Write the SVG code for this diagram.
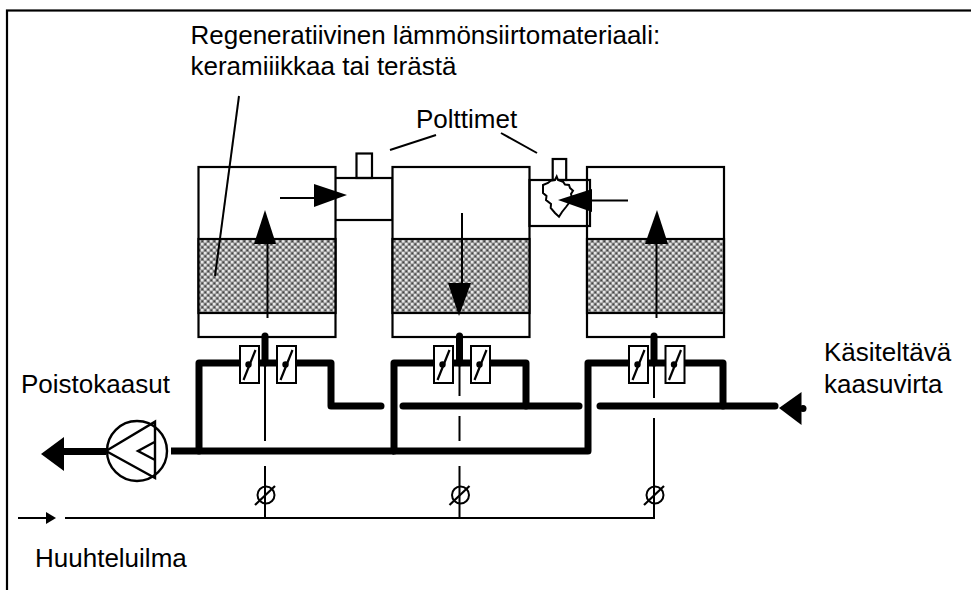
<svg xmlns="http://www.w3.org/2000/svg" width="971" height="590" viewBox="0 0 971 590">
<style>
text{font-family:"Liberation Sans",Arial,sans-serif;font-size:26px;fill:#000}
.o{fill:#fff;stroke:#000;stroke-width:2.2}
.n{fill:none;stroke:#000;stroke-width:2.2}
.w{fill:#fff;stroke:#000;stroke-width:2}
.m{fill:none;stroke:#000;stroke-width:2.4}
.t{fill:none;stroke:#000;stroke-width:2.2}
.p{fill:none;stroke:#000;stroke-width:7;stroke-linecap:round;stroke-linejoin:round}
.q{fill:none;stroke:#000;stroke-width:7}
.h{fill:#000}
.b{fill:url(#mesh);stroke:#000;stroke-width:2.2}
.l{fill:none;stroke:#000;stroke-width:2}
</style>
<defs>
<pattern id="mesh" patternUnits="userSpaceOnUse" width="6" height="6">
<rect width="6" height="6" fill="#8c8c8c"/>
<rect x="0" y="0" width="2.500" height="2.500" fill="#e6e6e6"/>
<rect x="3" y="3" width="2.500" height="2.500" fill="#e6e6e6"/>
<rect x="3.500" y="0.500" width="1.500" height="1.500" fill="#444"/>
<rect x="0.500" y="3.500" width="1.500" height="1.500" fill="#444"/>
</pattern>
<g id="damper">
<rect x="0" y="0" width="19" height="37" class="w"/>
<path d="M3.500 34 L15.500 4" class="t"/>
<circle cx="8.500" cy="18.500" r="3.200" class="h"/>
</g>
<g id="valve">
<circle cx="0" cy="0" r="8.500" fill="none" stroke="#000" stroke-width="2"/>
<path d="M-11 10 L9 -9" class="t"/>
</g>
</defs>
<rect id="frame" x="7" y="10.500" width="970" height="590" fill="none" stroke="#000" stroke-width="2.200"/>
<g id="burner-1"><rect x="356.500" y="153.500" width="15.500" height="24.500" class="n"/><rect x="335" y="178" width="57.500" height="42" class="n"/></g>
<g id="tank-1"><rect x="198.500" y="167" width="137" height="170" class="o"/><rect x="198.500" y="239" width="137" height="74" class="b"/></g>
<g id="tank-2"><rect x="392.500" y="167" width="137" height="170" class="o"/><rect x="392.500" y="239" width="137" height="74" class="b"/></g>
<g id="tank-3"><rect x="587" y="167" width="137" height="170" class="o"/><rect x="587" y="239" width="137" height="74" class="b"/></g>
<g id="burner-2"><rect x="552.700" y="159" width="13.500" height="21" class="n"/><rect x="529.500" y="180" width="60.500" height="46" class="n"/>
<path d="M556.700 176.500 L558 180 L563 181.700 L565 184.500 L569 185 L570 188 L573 190.700 L571 194 L572 198 L569 203 L566 207 L562 212 L559 216.700 L555 213 L550.700 208 L551 204 L546 200 L546.500 196 L543 193 L543 185 L548 183 L550.700 180.700 L555 180 Z" class="w"/></g>
<g id="connectors">
<path class="l" d="M239 96 L215 276"/>
<path class="l" d="M390 150 L436 135"/>
<path class="l" d="M501 133 L537 153"/>
<path class="q" d="M64 451.500 H106"/>
<path class="q" d="M171 451 H394"/>
<path class="p" d="M199 451 V363 H331 V406 H381"/>
<path class="p" d="M394 451 V363 H526 V406"/>
<path class="p" d="M394 451 H588 V363 H723 V406"/>
<path class="p" d="M403 406 H579"/>
<path class="p" d="M600 406 H775"/>
<path class="p" d="M265 336 V363"/>
<path class="p" d="M459.500 336 V363"/>
<path class="p" d="M654 336 V363"/>
<path class="l" d="M265 363 V441 M265 466 V518"/>
<path class="l" d="M459.500 363 V396 M459.500 416 V441 M459.500 466 V518"/>
<path class="l" d="M654 363 V398 M654 418 V518"/>
<path class="l" d="M65 518 H655"/>
<path class="l" d="M18 518 H48"/>
<path class="h" d="M46 512 L56 518 L46 524 Z"/>
<path class="l" d="M267.500 318 V240"/>
<path class="h" d="M265 210 L276 244 L254 244 Z"/>
<path class="l" d="M462 213 V285"/>
<path class="h" d="M459 316 L448 283 L471 283 Z"/>
<path class="l" d="M656.500 318 V240"/>
<path class="h" d="M657 210 L668 244 L645 244 Z"/>
<path class="l" d="M280 198 H316"/>
<path class="h" d="M347 195 L314 184 L314 207 Z"/>
<path class="l" d="M628 200.500 H590"/>
<path class="h" d="M558 200 L592 189 L592 212 Z"/>
<path class="h" d="M41 454 L64 437 L64 471 Z"/>
<path class="h" d="M779 408 L801.500 392 L801.500 425 Z"/>
<circle cx="803" cy="408.500" r="3.500" class="h"/>
</g>
<g id="pump"><circle cx="137" cy="451" r="30" class="m"/><path class="m" d="M106 451 L155 421.700 V478 Z M155 441.700 L138 451 L155 460"/></g>
<g id="dampers-1"><use href="#damper" x="240" y="346"/><use href="#damper" x="277" y="346"/></g>
<g id="dampers-2"><use href="#damper" x="434" y="346"/><use href="#damper" x="471" y="346"/></g>
<g id="dampers-3"><use href="#damper" x="629" y="346"/><use href="#damper" x="665.500" y="346"/></g>
<g id="valve-1"><use href="#valve" x="266" y="495"/></g>
<g id="valve-2"><use href="#valve" x="460.500" y="495"/></g>
<g id="valve-3"><use href="#valve" x="655" y="495"/></g>
<g id="labels">
<text x="190.500" y="43.500">Regeneratiivinen lämmönsiirtomateriaali:</text>
<text x="190.500" y="75">keramiiikkaa tai terästä</text>
<text x="416" y="128">Polttimet</text>
<text x="21" y="393">Poistokaasut</text>
<text x="824" y="361">Käsiteltävä</text>
<text x="824" y="393">kaasuvirta</text>
<text x="35" y="566.500">Huuhteluilma</text>
</g>
</svg>
